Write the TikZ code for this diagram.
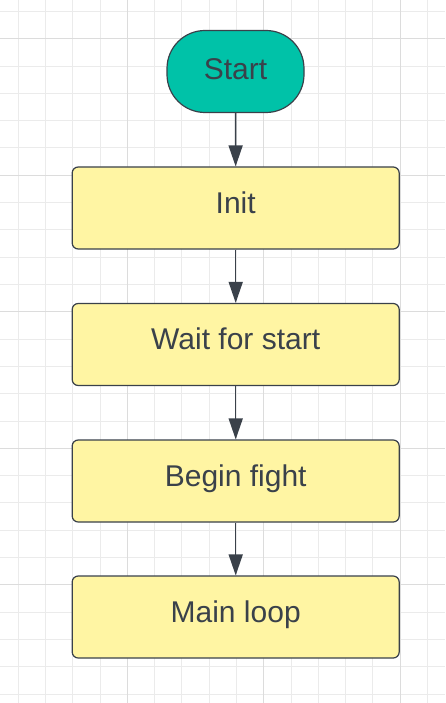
\documentclass[tikz,border=0pt]{standalone}
\usepackage{fontspec}
\setmainfont{Liberation Sans}
\usetikzlibrary{arrows.meta}
\definecolor{ink}{HTML}{3A414A}
\definecolor{startfill}{HTML}{00C2A8}
\definecolor{boxfill}{HTML}{FFF5A3}
\definecolor{gridminor}{HTML}{EBEBEB}
\definecolor{gridmajor}{HTML}{DCDCDC}
\tikzset{
  boxtext/.style={text=ink, inner sep=0pt, font=\fontsize{30}{34}\selectfont,
    text height=22.5pt, text depth=12pt},
  termbox/.style={boxtext, text depth=7pt, draw=ink, line width=1.2pt, fill=startfill, rounded corners=38pt,
    minimum width=137pt, minimum height=82pt},
  stepbox/.style={boxtext, draw=ink, line width=1.2pt, fill=boxfill, rounded corners=6pt,
    minimum width=327pt, minimum height=82pt},
  conn/.style={draw=ink, line width=1.5pt, -{Triangle[length=21pt,width=14pt]}},
}
\begin{document}
\begin{tikzpicture}[x=1pt,y=-1pt]
\useasboundingbox (0,0) rectangle (445,703);
\fill[white] (0,0) rectangle (445,703);
\foreach \k in {0,...,15} \draw[gridminor, line width=1pt] ({18.3+27.27*\k},0) -- ++(0,703);
\foreach \k in {0,...,25} \draw[gridminor, line width=1pt] (0,{11.4+27.31*\k}) -- ++(445,0);
\foreach \k in {4,9,14} \draw[gridmajor, line width=1pt] ({18.3+27.27*\k},0) -- ++(0,703);
\foreach \k in {1,6,11,16,21} \draw[gridmajor, line width=1pt] (0,{11.4+27.31*\k}) -- ++(445,0);
\node[termbox] (start) at (235.5,71.5) {Start};
\node[stepbox] (init) at (235.7,208) {Init};
\node[stepbox] (wait) at (235.7,344.5) {Wait for start};
\node[stepbox] (fight) at (235.7,481) {Begin fight};
\node[stepbox] (main) at (235.7,617) {Main loop};
\draw[conn] (start) -- (init);
\draw[conn] (init) -- (wait);
\draw[conn] (wait) -- (fight);
\draw[conn] (fight) -- (main);
\end{tikzpicture}
\end{document}
